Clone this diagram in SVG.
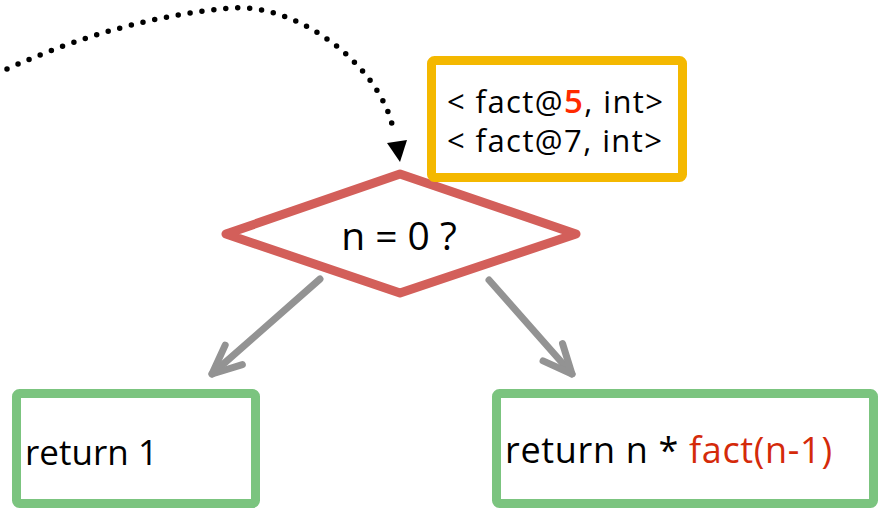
<svg xmlns="http://www.w3.org/2000/svg" width="880" height="509" viewBox="0 0 880 509">
<style>
  .txt { font-family: "Open Sans", "Noto Sans", "DejaVu Sans", sans-serif; fill: #000; }
  .gbox { fill: #fff; stroke: #7BC47F; stroke-width: 9; }
  .ybox { fill: #fff; stroke: #F4B800; stroke-width: 9; }
  .dia { fill: #fff; stroke: #D35F5A; stroke-width: 9; stroke-linejoin: round; }
  .flow { stroke: #939393; stroke-width: 7; stroke-linecap: round; fill: none; }
  .red { fill: #D42A0A; }
</style>
<defs>
  <marker id="vhead" markerUnits="userSpaceOnUse" orient="auto" refX="0" refY="0" markerWidth="40" markerHeight="40" overflow="visible">
    <path d="M-29,-13 L0,0 L-29,13" fill="none" stroke="#939393" stroke-width="7" stroke-linecap="round" stroke-linejoin="round"/>
  </marker>
</defs>
<rect width="880" height="509" fill="#fff"/>

<g id="connectors">
  <path d="M7,69 Q120,18 230,8 C300,2 385,70 394,134" fill="none" stroke="#000" stroke-width="5.5" stroke-linecap="round" stroke-dasharray="0 12"/>
  <polygon points="387,143 407,140 400,162" fill="#000"/>
  <line class="flow" x1="320" y1="279" x2="212" y2="374" marker-end="url(#vhead)"/>
  <line class="flow" x1="489" y1="280" x2="572" y2="374" marker-end="url(#vhead)"/>
</g>

<g id="decision">
  <polygon class="dia" points="226,234 400,174 576,234 400,293"/>
  <text class="txt" x="399" y="250" font-size="39" text-anchor="middle">n = 0 ?</text>
</g>

<g id="annotation">
  <rect class="ybox" x="431.5" y="60.5" width="251" height="117" rx="3"/>
  <text class="txt" x="447" y="113" font-size="31" textLength="216">&lt; fact@<tspan fill="#FF2A00" font-weight="600" font-size="33">5</tspan>, int&gt;</text>
  <text class="txt" x="447" y="152" font-size="31" textLength="215">&lt; fact@7, int&gt;</text>
</g>

<g id="base-case">
  <rect class="gbox" x="16.5" y="393.5" width="239" height="110" rx="3"/>
  <text class="txt" x="25" y="465" font-size="35" textLength="133">return 1</text>
</g>

<g id="recursive-case">
  <rect class="gbox" x="496.5" y="393.5" width="377" height="110" rx="3"/>
  <text class="txt" x="505" y="463" font-size="36" textLength="327">return n * <tspan class="red">fact(n-1)</tspan></text>
</g>
</svg>
